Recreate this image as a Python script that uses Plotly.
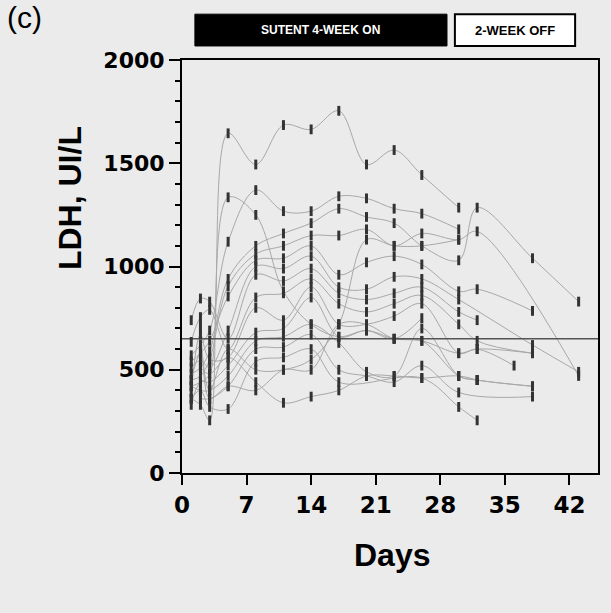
import plotly.graph_objects as go

N = None
# Sampling days (x positions of the measurement columns)
DAYS = [1, 2, 3, 5, 8, 11, 14, 17, 20, 23, 26, 30, 32, 36, 38, 43]

# LDH (UI/L) per patient, aligned with DAYS (None = not measured)
p01 = [420, 440, 480, 1645, 1494, 1685, 1664, 1754, 1494, 1564, 1443, 1285, N, N, N, N]
p02 = [360, 330, 255, 1335, 1250, 880, 720, 660, 690, 650, 640, 580, 600, N, 580, N]
p03 = [570, 620, 690, 1120, 1370, 1268, 1268, 1340, 1330, 1280, 1256, 1180, N, N, N, N]
p04 = [480, 510, 590, 940, 1100, 1160, 1210, 1280, 1240, 1210, 1100, 1030, 1285, N, 1040, 830]
p05 = [450, 470, 550, 905, 1060, 1100, 1150, 1150, 1180, 1100, 1160, 1130, 1170, N, N, 470]
p06 = [540, 580, 640, 855, 1030, 1040, 1100, 960, 1020, 1050, 1010, 880, 890, N, 785, N]
p07 = [510, 545, 510, 690, 1000, 990, 1050, 900, 890, 950, 940, 840, N, N, 620, 490]
p08 = [740, 845, 830, 650, 960, 930, 990, 870, 840, 870, 900, 780, 740, N, N, N]
p09 = [635, 755, 790, 600, 850, 870, 940, 820, 780, 820, 860, 720, 640, N, 580, N]
p10 = [390, 670, 550, 560, 800, 740, 900, 720, 720, 760, 820, 580, 600, 520, N, N]
p11 = [330, 440, 440, 520, 680, 700, 850, 660, 690, 650, 750, N, N, N, N, N]
p12 = [420, 400, 400, 470, 640, 660, 720, 630, 490, 470, 700, 470, 450, N, 420, N]
p13 = [N, 360, 360, 420, 600, 610, 670, 500, 470, 440, 520, 390, N, N, 370, N]
p14 = [360, 400, 320, 310, 540, 560, 600, 440, N, N, 460, 320, 255, N, N, N]
p15 = [N, 710, 400, 600, 500, 500, 550, 720, 1130, 1100, 1100, 1130, N, N, N, N]
p16 = [N, 510, 480, 560, 440, 340, 370, 400, 470, 470, 460, 470, 450, N, N, N]
p17 = [450, 580, 360, 420, 400, 500, 500, 720, 720, 650, 640, 470, 450, N, 420, N]

PATIENTS = [p01, p02, p03, p04, p05, p06, p07, p08, p09, p10, p11, p12, p13, p14, p15, p16, p17]

ULN = 650  # horizontal reference line
Y_TICKS = [0, 500, 1000, 1500, 2000]
X_TICKS = [0, 7, 14, 21, 28, 35, 42]

BG = "#ebebeb"
fig = go.Figure()

mx, my = [], []
for vals in PATIENTS:
    xs = [d for d, v in zip(DAYS, vals) if v is not None]
    ys = [v for v in vals if v is not None]
    mx += xs
    my += ys
    fig.add_trace(go.Scatter(x=xs, y=ys, mode="lines",
                             line=dict(color="#a8a8a8", width=1, shape="spline", smoothing=1.0),
                             hoverinfo="skip", showlegend=False))

fig.add_trace(go.Scatter(x=[0, 45.1], y=[ULN, ULN], mode="lines",
                         line=dict(color="#555555", width=1.5), showlegend=False, hoverinfo="skip"))

fig.add_trace(go.Scatter(x=mx, y=my, mode="markers",
                         marker=dict(symbol="line-ns", size=7, color="#333333",
                                     line=dict(width=3, color="#333333")),
                         showlegend=False))

fig.update_layout(
    width=611, height=613,
    margin=dict(l=182, r=13, t=60, b=140),
    paper_bgcolor=BG, plot_bgcolor=BG,
    xaxis=dict(range=[0, 45.1], tickvals=X_TICKS, ticks="outside", ticklen=10, tickwidth=2,
               tickcolor="black", showline=True, linecolor="black", linewidth=2, mirror=True,
               showgrid=False, zeroline=False,
               tickfont=dict(family="DejaVu Sans", size=23, color="black", weight="bold")),
    yaxis=dict(range=[0, 2000], tickvals=Y_TICKS, ticks="outside", ticklen=11, tickwidth=2,
               tickcolor="black", showline=True, linecolor="black", linewidth=2, mirror=True,
               showgrid=False, zeroline=False,
               minor=dict(dtick=100, ticks="outside", ticklen=5, tickwidth=1.5, tickcolor="black"),
               tickfont=dict(family="DejaVu Sans", size=22, color="black", weight="bold")),
    shapes=[
        dict(type="rect", xref="paper", yref="paper", x0=0.031, x1=0.637, y0=1.034, y1=1.111,
             fillcolor="black", line=dict(color="black", width=1)),
        dict(type="rect", xref="paper", yref="paper", x0=0.656, x1=0.945, y0=1.034, y1=1.111,
             fillcolor="white", line=dict(color="black", width=2)),
    ],
    annotations=[
        dict(text="SUTENT 4-WEEK ON", xref="paper", yref="paper", x=0.334, y=1.0725,
             xanchor="center", yanchor="middle", showarrow=False,
             font=dict(family="Liberation Sans", size=12, color="white", weight="bold")),
        dict(text="2-WEEK OFF", xref="paper", yref="paper", x=0.8005, y=1.0725,
             xanchor="center", yanchor="middle", showarrow=False,
             font=dict(family="Liberation Sans", size=13, color="black", weight="bold")),
        dict(text="(c)", xref="paper", yref="paper", x=-0.425, y=1.148, xanchor="left", yanchor="top",
             showarrow=False, font=dict(family="Liberation Sans", size=30, color="black")),
        dict(text="LDH, UI/L", xref="paper", yref="paper", x=-0.269, y=0.666, textangle=-90,
             xanchor="center", yanchor="middle", showarrow=False,
             font=dict(family="Liberation Sans", size=32, color="black", weight="bold")),
        dict(text="Days", xref="paper", yref="paper", x=0.507, y=-0.199,
             xanchor="center", yanchor="middle", showarrow=False,
             font=dict(family="Liberation Sans", size=32, color="black", weight="bold")),
    ],
)

fig.write_html("out.html", config={"displayModeBar": False},
               post_script="document.body.style.margin='0';document.body.style.background='#ebebeb';")
